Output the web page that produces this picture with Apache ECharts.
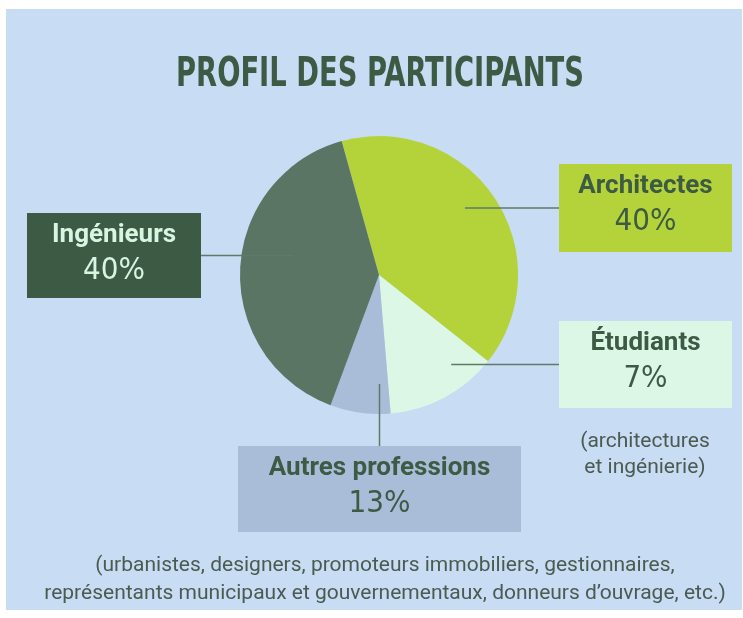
<!DOCTYPE html>
<html>
<head>
<meta charset="utf-8">
<script src="https://cdn.jsdelivr.net/npm/echarts@6/dist/echarts.min.js"></script>
<style>
html, body { margin: 0; padding: 0; background: #fff; }
#panel { position: absolute; left: 6px; top: 9px; width: 736px; height: 601px; background: #c8dcf3; }
</style>
</head>
<body>
<div id="panel"></div>
<script>
// données
var categories = ['Architectes', 'Étudiants', 'Autres professions', 'Ingénieurs'];
var sliceShares = [40, 13, 7, 40];
var labelShares = [40, 7, 13, 40];   // pourcentages imprimés dans les cartouches
var titleText = 'PROFIL DES PARTICIPANTS';
var noteEtudiants = '(architectures\net ingénierie)';
var noteAutres = '(urbanistes, designers, promoteurs immobiliers, gestionnaires,\nreprésentants municipaux et gouvernementaux, donneurs d\u2019ouvrage, etc.)';

// styles / mise en page
var sliceColors = ['#b4d33b', '#dcf7e6', '#a9bdd8', '#5a7563'];
var boxColors = ['#b4d33b', '#dcf7e6', '#a9bdd8', '#3d5a44'];
var textColors = ['#3d5a44', '#3d5a44', '#3d5a44', '#d6f5e3'];
var boxes = [[639.5, 199, 173, 88], [639.5, 355.5, 173, 87], [373.5, 480, 283, 86], [108, 246.5, 174, 85]]; // cx, cy, w, h
var lineSide = ['left', 'left', 'top', 'right'];
var lineReach = [109, 115, 109, 88];
var cx = 373, cy = 266, R = 139;
var condensed = '"DejaVu Sans Condensed", "Liberation Sans Narrow", Roboto, sans-serif';

// largeur du titre ramenée à celle de l'original (police étroite)
var ctx = document.createElement('canvas').getContext('2d');
ctx.font = 'bold 41px ' + condensed;
var titleScale = 408 / ctx.measureText(titleText).width;

// trait de rappel : du bord du cartouche jusqu'à l'intérieur du secteur
function leaderPoints(i) {
    var b = boxes[i];
    var r = lineReach[i];
    if (lineSide[i] === 'top') {
        var dx = b[0] - cx;
        var dy = Math.sqrt(r * r - dx * dx);
        return [[cx + dx, cy + dy], [b[0], b[1] - b[3] / 2]];
    }
    var dy2 = b[1] - cy;
    var dx2 = Math.sqrt(r * r - dy2 * dy2) * (lineSide[i] === 'left' ? 1 : -1);
    var x0 = lineSide[i] === 'left' ? b[0] - b[2] / 2 : b[0] + b[2] / 2;
    return [[cx + dx2, b[1]], [x0, b[1]]];
}

function placeLabel(params) {
    var b = boxes[params.dataIndex];
    return { x: b[0], y: b[1], align: 'center', verticalAlign: 'middle' };
}

var pieData = categories.map(function (name, i) {
    var tc = textColors[i];
    return {
        name: name,
        value: sliceShares[i],
        itemStyle: { color: sliceColors[i] },
        label: {
            backgroundColor: boxColors[i],
            width: boxes[i][2],
            padding: [7, 0, boxes[i][3] - 7 - 72, 0],
            rich: {
                n: { fontFamily: 'Roboto', fontWeight: 'bold', fontSize: 26, lineHeight: 30, color: tc, align: 'center' },
                p: { fontFamily: condensed, fontSize: 31, lineHeight: 42, color: tc, align: 'center' }
            }
        }
    };
});

var leaders = categories.map(function (name, i) {
    return {
        type: 'polyline', z: 10, silent: true,
        shape: { points: leaderPoints(i) },
        style: { stroke: '#5f7a69', lineWidth: 1.5, fill: null }
    };
});

var chart = echarts.init(document.getElementById('panel'));
chart.setOption({
    backgroundColor: 'transparent',
    animation: false,
    graphic: [
        {
            type: 'text', x: 374, y: 66, scaleX: titleScale, silent: true,
            style: {
                text: titleText, fontFamily: condensed, fontWeight: 'bold', fontSize: 41,
                fill: '#3d5a44', align: 'center', textAlign: 'center', verticalAlign: 'middle', textVerticalAlign: 'middle'
            }
        },
        {
            type: 'text', x: 639, y: 446, silent: true,
            style: {
                text: noteEtudiants, fontFamily: 'Roboto', fontSize: 21, lineHeight: 26,
                fill: '#4b5b51', align: 'center', textAlign: 'center', verticalAlign: 'middle', textVerticalAlign: 'middle'
            }
        },
        {
            type: 'text', x: 379, y: 571, silent: true,
            style: {
                text: noteAutres, fontFamily: 'Roboto', fontSize: 21, lineHeight: 28,
                fill: '#4b5b51', align: 'center', textAlign: 'center', verticalAlign: 'middle', textVerticalAlign: 'middle'
            }
        }
    ].concat(leaders),
    series: [{
        type: 'pie',
        center: [cx, cy],
        radius: R,
        startAngle: 105.6,
        clockwise: true,
        avoidLabelOverlap: false,
        silent: true,
        emphasis: { disabled: true },
        label: {
            show: true,
            position: 'outside',
            formatter: function (p) {
                return '{n|' + p.name + '}\n{p|' + labelShares[p.dataIndex] + '%}';
            }
        },
        labelLine: { show: false },
        labelLayout: placeLabel,
        data: pieData
    }]
});
</script>
</body>
</html>
